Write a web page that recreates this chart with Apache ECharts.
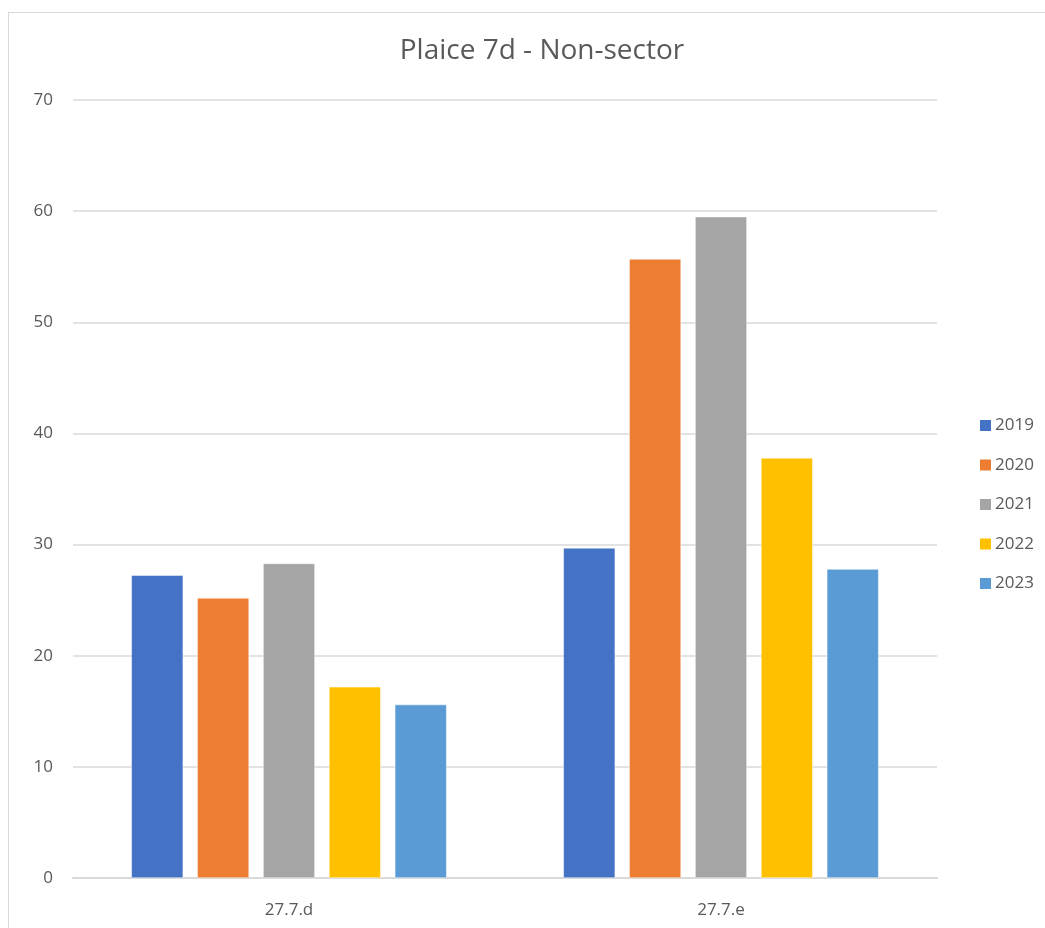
<!DOCTYPE html>
<html>
<head>
<meta charset="utf-8">
<script src="https://cdn.jsdelivr.net/npm/echarts@6/dist/echarts.min.js"></script>
<style>
  html, body { margin: 0; padding: 0; background: #fff; }
  #frame { position: absolute; left: 8px; top: 12px; width: 1100px; height: 1000px; border: 1px solid #d9d9d9; }
  #chart { position: absolute; left: 0; top: 0; width: 1045px; height: 928px; }
</style>
</head>
<body>
<div id="frame"></div>
<div id="chart"></div>
<script>
// areas and yearly values
const categories = ['27.7.d', '27.7.e']
const years = ['2019', '2020', '2021', '2022', '2023']
const values2019 = [27.25, 29.7]
const values2020 = [25.2, 55.7]
const values2021 = [28.3, 59.5]
const values2022 = [17.2, 37.8]
const values2023 = [15.6, 27.8]
const colors = ['#4472c4', '#ed7d31', '#a5a5a5', '#ffc000', '#5b9bd5']

const seriesData = [values2019, values2020, values2021, values2022, values2023]
const font = 'Open Sans, Liberation Sans, sans-serif'

const chart = echarts.init(document.getElementById('chart'))
chart.setOption({
  animation: false,
  color: colors,
  title: {
    text: 'Plaice 7d - Non-sector',
    left: 537,
    textAlign: 'center',
    top: 32,
    textStyle: { fontFamily: font, fontSize: 28, fontWeight: 'normal', color: '#595959' }
  },
  legend: {
    orient: 'vertical',
    left: 973,
    top: 412,
    itemWidth: 13,
    itemHeight: 13,
    itemGap: 22.5,
    icon: 'rect',
    textStyle: { fontFamily: font, fontSize: 17, color: '#595959', padding: [0, 0, 0, -2] },
    data: years
  },
  grid: { left: 73, right: 108, top: 100, bottom: 50 },
  xAxis: {
    type: 'category',
    data: categories,
    axisLine: { lineStyle: { color: '#d9d9d9', width: 2 } },
    axisTick: { show: false },
    axisLabel: { fontFamily: font, fontSize: 17, color: '#595959', margin: 24 }
  },
  yAxis: {
    type: 'value',
    min: 0,
    max: 70,
    interval: 10,
    axisLine: { show: false },
    axisTick: { show: false },
    splitLine: { lineStyle: { color: '#d9d9d9', width: 1.5 } },
    axisLabel: { fontFamily: font, fontSize: 17, color: '#595959', margin: 20 }
  },
  series: years.map((y, i) => ({
    name: y,
    type: 'bar',
    data: seriesData[i],
    barGap: '27%',
    barCategoryGap: '27%',
    itemStyle: { borderColor: '#fff', borderWidth: 0.5 }
  }))
})
</script>
</body>
</html>
